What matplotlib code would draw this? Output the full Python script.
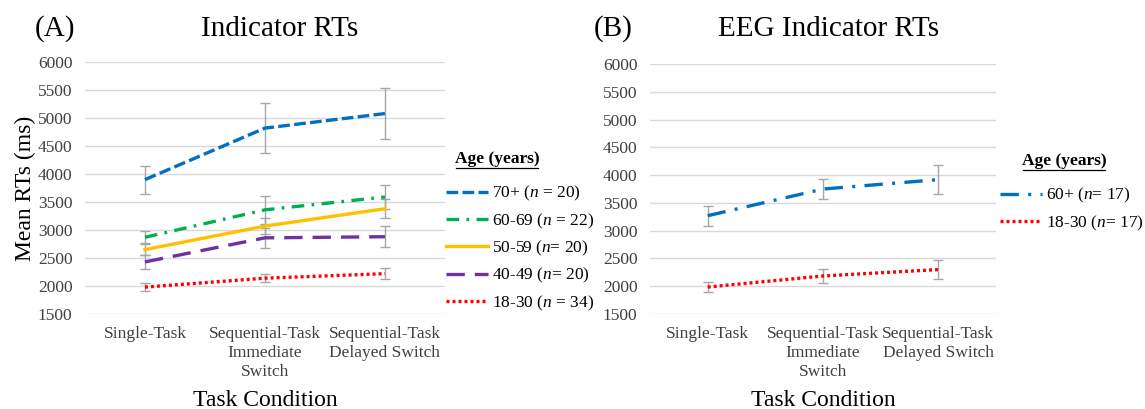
import numpy as np
import matplotlib.pyplot as plt
from matplotlib.lines import Line2D

plt.rcParams.update({
    'font.family': 'Liberation Serif',
    'mathtext.fontset': 'custom',
    'mathtext.rm': 'Liberation Serif',
    'mathtext.it': 'Liberation Serif:italic',
    'figure.dpi': 100,
})

conditions = ['Single-Task', 'Sequential-Task\nImmediate\nSwitch', 'Sequential-Task\nDelayed Switch']
yticks = [1500, 2000, 2500, 3000, 3500, 4000, 4500, 5000, 5500, 6000]

# panel A: indicator RTs by age group
a_labels = ['70+ ($n$ = 20)', '60-69 ($n$ = 22)', '50-59 ($n$= 20)', '40-49 ($n$= 20)', '18-30 ($n$ = 34)']
a_means = [
    [3900, 4820, 5080],
    [2870, 3360, 3590],
    [2650, 3070, 3380],
    [2430, 2860, 2880],
    [1980, 2140, 2220],
]
a_err = [
    [250, 450, 460],
    [110, 250, 220],
    [100, 150, 170],
    [130, 180, 190],
    [65, 70, 100],
]

# panel B: EEG indicator RTs
b_labels = ['60+ ($n$= 17)', '18-30 ($n$= 17)']
b_means = [
    [3270, 3750, 3920],
    [1985, 2185, 2300],
]
b_err = [
    [180, 180, 260],
    [90, 130, 165],
]

a_styles = [
    dict(color='#0070C0', dashes=(3.5, 1.3)),
    dict(color='#00B050', dashes=(3.8, 2.2, 0.8, 2.2)),
    dict(color='#FFC000', linestyle='-'),
    dict(color='#7030A0', dashes=(5.5, 3.0)),
    dict(color='#FF0000', dashes=(0.9, 0.9)),
]
b_styles = [
    dict(color='#0070C0', dashes=(5.5, 2.8, 0.9, 2.8)),
    dict(color='#FF0000', dashes=(0.9, 0.9)),
]

fig = plt.figure(figsize=(11.45, 4.09))
axA = fig.add_axes([0.0742, 0.2323, 0.3144, 0.616])
axB = fig.add_axes([0.5677, 0.2323, 0.3022, 0.611])

x = np.arange(len(conditions))


def draw_panel(ax, means, errs, styles, labels):
    handles = []
    for m, e, st, lab in zip(means, errs, styles, labels):
        ax.errorbar(x, m, yerr=e, fmt='none', ecolor='#a6a6a6', elinewidth=1.0,
                    capsize=3.6, capthick=1.0, zorder=2)
        ln, = ax.plot(x, m, lw=2.4, label=lab, zorder=3, **st)
        handles.append(ln)
    ax.set_xlim(-0.5, 2.5)
    ax.set_ylim(1500, 6000)
    ax.set_yticks(yticks)
    ax.set_xticks(x)
    ax.set_xticklabels(conditions, fontsize=12.5, color='#404040', linespacing=1.25)
    ax.tick_params(axis='y', labelsize=12.5, labelcolor='#404040', length=0, pad=9)
    ax.tick_params(axis='x', length=0, pad=9)
    for s in ax.spines.values():
        s.set_visible(False)
    ax.grid(axis='y', color='#d9d9d9', lw=1.0)
    ax.set_axisbelow(True)
    return handles


hA = draw_panel(axA, a_means, a_err, a_styles, a_labels)
hB = draw_panel(axB, b_means, b_err, b_styles, b_labels)

axA.set_ylabel('Mean RTs (ms)', fontsize=17, labelpad=1)
axA.set_xlabel('Task Condition', fontsize=17, labelpad=7)
axB.set_xlabel('Task Condition', fontsize=17, labelpad=7)

fig.text(55 / 1145, 1 - 29 / 409, '(A)', fontsize=21, ha='center', va='center')
fig.text(280 / 1145, 1 - 29 / 409, 'Indicator RTs', fontsize=21, ha='center', va='center')
fig.text(613 / 1145, 1 - 29 / 409, '(B)', fontsize=21, ha='center', va='center')
fig.text(829 / 1145, 1 - 29 / 409, 'EEG Indicator RTs', fontsize=21, ha='center', va='center')

# legend titles with underline
for tx, ty in [(497, 159), (1064, 161)]:
    t = fig.text(tx / 1145, 1 - ty / 409, 'Age (years)', fontsize=12.5, fontweight='bold',
                 ha='center', va='center')
    fig.add_artist(Line2D([(tx - 41) / 1145, (tx + 41) / 1145],
                          [1 - (ty + 9) / 409, 1 - (ty + 9) / 409],
                          color='black', lw=0.9, transform=fig.transFigure))

leg_kw = dict(loc='upper left', frameon=False, fontsize=12.5, handlelength=2.4,
              handletextpad=0.25, labelspacing=0.47, borderpad=0, borderaxespad=0)
fig.legend(handles=hA, bbox_to_anchor=(446 / 1145, 1 - 184 / 409), **leg_kw)
fig.legend(handles=hB, bbox_to_anchor=(1000 / 1145, 1 - 186 / 409), **leg_kw)

fig.savefig('out.png', dpi=100)
